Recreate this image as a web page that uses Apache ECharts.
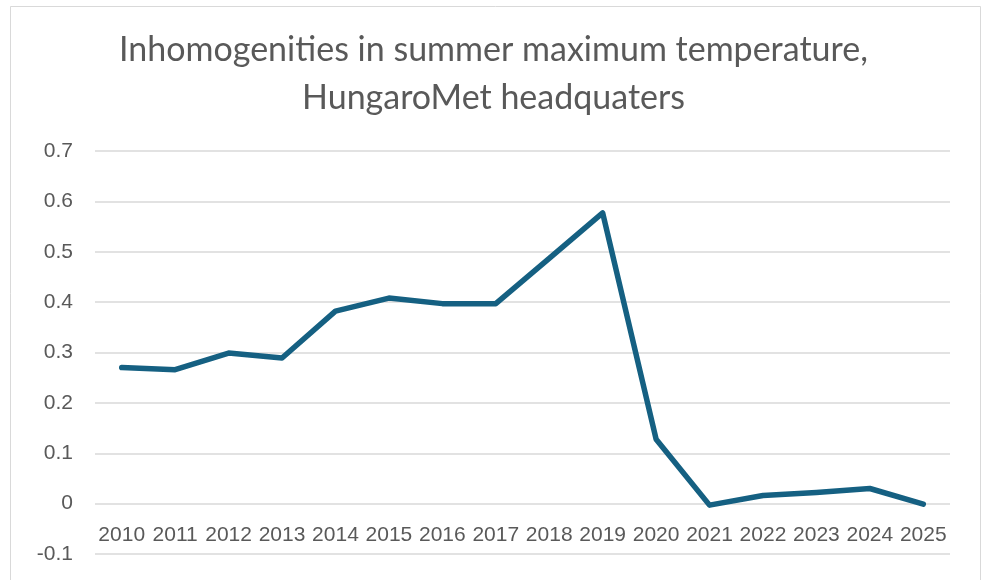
<!DOCTYPE html>
<html>
<head>
<meta charset="utf-8">
<script src="https://cdn.jsdelivr.net/npm/echarts@6/dist/echarts.min.js"></script>
<style>
html,body{margin:0;padding:0;background:#fff;}
#chart{width:987px;height:580px;}
</style>
</head>
<body>
<div id="chart"></div>
<script>
const titleText = 'Inhomogenities in summer maximum temperature,\nHungaroMet headquaters';
const years = ['2010','2011','2012','2013','2014','2015','2016','2017','2018','2019','2020','2021','2022','2023','2024','2025'];
const values = [0.270, 0.266, 0.299, 0.289, 0.382, 0.408, 0.397, 0.397, 0.487, 0.577, 0.128, -0.003, 0.016, 0.022, 0.030, -0.001];
const yMin = -0.1, yMax = 0.7, yStep = 0.1;

const chart = echarts.init(document.getElementById('chart'), null, {renderer: 'canvas'});
chart.setOption({
  animation: false,
  backgroundColor: '#ffffff',
  graphic: [{
    type: 'rect',
    shape: {x: 10.5, y: 6.5, width: 970, height: 590},
    style: {fill: 'none', stroke: '#d9d9d9', lineWidth: 1}
  }],
  title: {
    text: titleText,
    left: 'center',
    top: 21,
    padding: [5, 0, 5, 10],
    textStyle: {
      fontFamily: 'Lato, "Noto Sans", sans-serif',
      fontSize: 34,
      fontWeight: 'normal',
      color: '#595959',
      lineHeight: 48
    }
  },
  grid: {left: 95, right: 37, top: 151, bottom: 26, containLabel: false, outerBoundsMode: 'none'},
  xAxis: {
    type: 'category',
    data: years,
    boundaryGap: true,
    position: 'bottom',
    axisLine: {show: false, onZero: false},
    axisTick: {show: false},
    axisLabel: {
      margin: -29,
      fontFamily: '"Liberation Sans", Arial, sans-serif',
      fontSize: 21,
      color: '#595959',
      interval: 0
    },
    splitLine: {show: false}
  },
  yAxis: {
    type: 'value',
    min: yMin,
    max: yMax,
    interval: yStep,
    axisLine: {show: false},
    axisTick: {show: false},
    axisLabel: {
      margin: 22,
      fontFamily: '"Liberation Sans", Arial, sans-serif',
      fontSize: 21,
      color: '#595959',
      formatter: v => String(Math.round(v * 10) / 10)
    },
    splitLine: {show: true, lineStyle: {color: '#d9d9d9', width: 1.5}}
  },
  series: [{
    type: 'line',
    data: values,
    symbol: 'none',
    lineStyle: {color: '#156082', width: 5.5, join: 'round', cap: 'round'},
    itemStyle: {color: '#156082'}
  }]
});
</script>
</body>
</html>
